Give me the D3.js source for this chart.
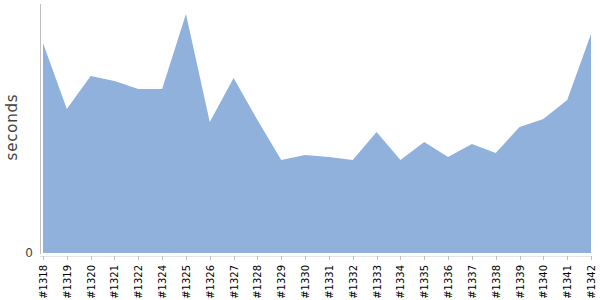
<!DOCTYPE html>
<html>
<head>
<meta charset="utf-8">
<script src="https://cdn.jsdelivr.net/npm/d3@7"></script>
<style>
  body { margin: 0; background: #fff; }
  svg { display: block; font-family: "DejaVu Sans", sans-serif; }
</style>
</head>
<body>
<div id="chart"></div>
<script>
// build labels (no #1323 in the run)
const builds = ["#1318", "#1319", "#1320", "#1321", "#1322", "#1324", "#1325", "#1326",
  "#1327", "#1328", "#1329", "#1330", "#1331", "#1332", "#1333", "#1334", "#1335",
  "#1336", "#1337", "#1338", "#1339", "#1340", "#1341", "#1342"];
const seconds = [210, 144, 177, 172, 164, 164, 239, 131, 175, 133, 93, 98, 96, 93,
  121, 93, 111, 96, 109, 100, 126, 134, 153, 219];
const yTicks = [0];

const width = 600, height = 300;
const margin = { top: 4, right: 9, bottom: 47, left: 43 };

const svg = d3.select("#chart").append("svg")
  .attr("width", width)
  .attr("height", height);

const x = d3.scalePoint()
  .domain(builds)
  .range([margin.left, width - margin.right]);

const y = d3.scaleLinear()
  .domain([0, 249])
  .range([height - margin.bottom, margin.top]);

const data = builds.map((b, i) => ({ build: b, value: seconds[i] }));

// area
svg.append("path")
  .datum(data)
  .attr("fill", "#8fb1db")
  .attr("d", d3.area()
    .x(d => x(d.build))
    .y0(y(0))
    .y1(d => y(d.value)));

// y axis
svg.append("line")
  .attr("x1", 40.5).attr("x2", 40.5)
  .attr("y1", margin.top).attr("y2", y(0) + 1)
  .attr("stroke", "#c0c0c0");

svg.selectAll(".ytick")
  .data(yTicks)
  .join("text")
  .attr("x", 33)
  .attr("y", d => y(d))
  .attr("dy", "0.35em")
  .attr("text-anchor", "end")
  .attr("fill", "#444")
  .style("font-size", "12px")
  .text(d => d);

svg.append("text")
  .attr("transform", `translate(17,127) rotate(-90)`)
  .attr("text-anchor", "middle")
  .attr("fill", "#444")
  .style("font-size", "15px")
  .style("letter-spacing", "0.8px")
  .text("seconds");

// x ticks and labels
const xg = svg.append("g");
xg.append("line")
  .attr("x1", 40).attr("x2", width - margin.right + 1)
  .attr("y1", y(0) + 3.5).attr("y2", y(0) + 3.5)
  .attr("stroke", "#e4e4e4");

xg.selectAll(".xtick")
  .data(builds)
  .join("line")
  .attr("class", "xtick")
  .attr("x1", d => Math.round(x(d)) + 0.5)
  .attr("x2", d => Math.round(x(d)) + 0.5)
  .attr("y1", y(0) + 3)
  .attr("y2", y(0) + 7)
  .attr("stroke", "#c0c0c0");

xg.selectAll("text")
  .data(builds)
  .join("text")
  .attr("transform", d => `translate(${x(d) + 4},${y(0) + 12}) rotate(-90)`)
  .attr("text-anchor", "end")
  .attr("fill", "#000")
  .style("font-size", "10px")
  .text(d => d);
</script>
</body>
</html>
